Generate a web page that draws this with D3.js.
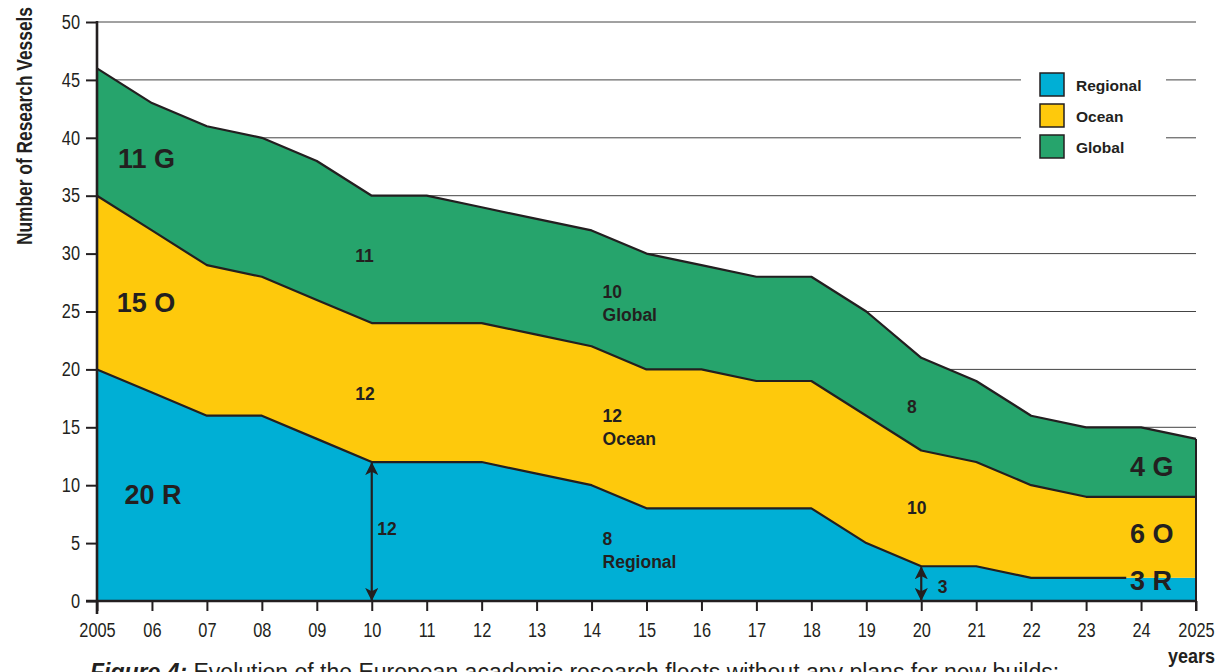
<!DOCTYPE html>
<html>
<head>
<meta charset="utf-8">
<script src="https://cdn.jsdelivr.net/npm/d3@7"></script>
<style>
  html, body { margin: 0; padding: 0; background: #fff; }
  svg { display: block; }
</style>
</head>
<body>
<svg id="chart" width="1228" height="672"></svg>
<script>
// ---- Data ----
const years = [2005,2006,2007,2008,2009,2010,2011,2012,2013,2014,2015,2016,2017,2018,2019,2020,2021,2022,2023,2024,2025];
const xTickLabels = ["2005","06","07","08","09","10","11","12","13","14","15","16","17","18","19","20","21","22","23","24","2025"];
const regional = [20,18,16,16,14,12,12,12,11,10,8,8,8,8,5,3,3,2,2,2,2];
const ocean    = [15,14,13,12,12,12,12,12,12,12,12,12,11,11,11,10,9,8,7,7,7];
const global   = [11,11,12,12,12,11,11,10,10,10,10,9,9,9,9,8,7,6,6,6,5];
const yTicks = [0,5,10,15,20,25,30,35,40,45,50];
const seriesNames = ["Regional","Ocean","Global"];
const colors = ["#00AFD5","#FEC90C","#26A46C"];

const bigLabels = [
  {x:2005.38, y:37.4, t:"11 G"},
  {x:2005.36, y:25, t:"15 O"},
  {x:2005.5, y:8.4, t:"20 R"},
  {x:2023.8, y:10.8, t:"4 G"},
  {x:2023.8, y:5, t:"6 O"},
  {x:2023.8, y:0.95, t:"3 R"}
];
const smallLabels = [
  {x:2009.7, y:29.3, t:["11"]},
  {x:2009.7, y:17.4, t:["12"]},
  {x:2014.2, y:26.2, t:["10","Global"]},
  {x:2014.2, y:15.5, t:["12","Ocean"]},
  {x:2014.2, y:4.8, t:["8","Regional"]},
  {x:2010.1, y:5.7, t:["12"]},
  {x:2019.74, y:16.2, t:["8"]},
  {x:2019.74, y:7.5, t:["10"]},
  {x:2020.3, y:0.7, t:["3"]}
];
const arrows = [{x:2010, from:0, to:12}, {x:2020, from:0, to:3}];

// ---- Setup ----
const svg = d3.select("#chart");
const x = d3.scaleLinear().domain([2005,2025]).range([97,1196]);
const y = d3.scaleLinear().domain([0,50]).range([601,22]);
const sans = "'Liberation Sans',Arial,Helvetica,sans-serif";
const ink = "#231f20";
const squeeze = 0.84;

// grid
svg.append("g").selectAll("line").data(yTicks.filter(d=>d>0)).join("line")
  .attr("x1", x(2005)).attr("x2", x(2025))
  .attr("y1", d=>y(d)).attr("y2", d=>y(d))
  .attr("stroke", "#444").attr("stroke-width", 1);

// stack
const table = years.map((yr,i)=>({year:yr, Regional:regional[i], Ocean:ocean[i], Global:global[i]}));
const stacked = d3.stack().keys(seriesNames)(table);
const area = d3.area().x(d=>x(d.data.year)).y0(d=>y(d[0])).y1(d=>y(d[1]));
const topLine = d3.line().x(d=>x(d.data.year)).y(d=>y(d[1]));

svg.append("g").selectAll("path").data(stacked).join("path")
  .attr("d", area).attr("fill", (d,i)=>colors[i]);

const defs = svg.append("defs");
defs.append("clipPath").attr("id","regclip").append("rect")
  .attr("x",0).attr("y",0).attr("width",x(2023.73)).attr("height",672);

svg.append("g").selectAll("path").data(stacked).join("path")
  .attr("d", topLine).attr("fill","none").attr("stroke",ink).attr("stroke-width",2.2)
  .attr("stroke-linejoin","round")
  .attr("clip-path",(d,i)=>i===0?"url(#regclip)":null);
// right edge
svg.append("line").attr("x1", x(2025)).attr("x2", x(2025))
  .attr("y1", y(0)+10).attr("y2", y(d3.sum([regional,ocean,global], a=>a[a.length-1])))
  .attr("stroke",ink).attr("stroke-width",2);

// axes
const yAxis = svg.append("g").attr("transform", `translate(${x(2005)},0)`)
  .call(d3.axisLeft(y).tickValues(yTicks).tickSize(11).tickPadding(6));
yAxis.select(".domain").remove();
yAxis.selectAll("line").attr("stroke",ink).attr("stroke-width",2);
yAxis.selectAll("text").attr("font-family",sans).attr("font-size",19.5).attr("fill",ink)
  .attr("x", -17/squeeze).attr("transform",`scale(${squeeze},1)`);
svg.append("line").attr("x1",x(2005)).attr("x2",x(2005)).attr("y1",y(50)-1).attr("y2",y(0)+13)
  .attr("stroke",ink).attr("stroke-width",2.6);

const xAxis = svg.append("g").attr("transform", `translate(0,${y(0)})`)
  .call(d3.axisBottom(x).tickValues(years).tickFormat((d,i)=>xTickLabels[i]).tickSize(10).tickPadding(12));
xAxis.select(".domain").remove();
xAxis.selectAll("line").attr("stroke",ink).attr("stroke-width",2);
xAxis.selectAll("text").attr("font-family",sans).attr("font-size",19.5).attr("fill",ink)
  .attr("transform",`scale(${squeeze},1)`);
svg.append("line").attr("x1",x(2005)-11).attr("x2",x(2025)+1).attr("y1",y(0)).attr("y2",y(0))
  .attr("stroke",ink).attr("stroke-width",2.6);

// axis titles
svg.append("text").attr("transform","translate(32,126) rotate(-90)")
  .attr("text-anchor","middle").attr("font-family",sans).attr("font-weight","bold")
  .attr("font-size",21.5).attr("fill",ink)
  .attr("textLength",238).attr("lengthAdjust","spacingAndGlyphs")
  .text("Number of Research Vessels");
svg.append("text").attr("x",1168).attr("y",663)
  .attr("font-family",sans).attr("font-weight","bold").attr("font-size",20)
  .attr("textLength",47).attr("lengthAdjust","spacingAndGlyphs")
  .attr("fill",ink).text("years");

// labels
svg.append("g").selectAll("text").data(bigLabels).join("text")
  .attr("x", d=>x(d.x)).attr("y", d=>y(d.y))
  .attr("font-family",sans).attr("font-weight","bold").attr("font-size",27)
  .attr("fill",ink).text(d=>d.t);
const sl = svg.append("g").selectAll("text").data(smallLabels).join("text")
  .attr("x", d=>x(d.x)).attr("y", d=>y(d.y))
  .attr("font-family",sans).attr("font-weight","bold").attr("font-size",17.5)
  .attr("fill",ink);
sl.selectAll("tspan").data(d=>d.t.map(t=>({t, x:d.x}))).join("tspan")
  .attr("x", d=>x(d.x)).attr("dy",(d,i)=>i===0?0:23).text(d=>d.t);

// arrows
defs.append("marker").attr("id","ah").attr("viewBox","0 0 12 12").attr("refX",11).attr("refY",6)
  .attr("markerWidth",6).attr("markerHeight",6).attr("markerUnits","strokeWidth").attr("orient","auto-start-reverse")
  .append("path").attr("d","M0,0 L12,6 L0,12 L3,6 Z").attr("fill",ink);
svg.append("g").selectAll("line").data(arrows).join("line")
  .attr("x1",d=>x(d.x)).attr("x2",d=>x(d.x))
  .attr("y1",d=>y(d.from)-1).attr("y2",d=>y(d.to)+1)
  .attr("stroke",ink).attr("stroke-width",2.2)
  .attr("marker-start","url(#ah)").attr("marker-end","url(#ah)");

// legend
const lg = svg.append("g");
lg.append("rect").attr("x",1021).attr("y",62).attr("width",145).attr("height",104).attr("fill","#fff");
const items = lg.selectAll("g").data(seriesNames).join("g")
  .attr("transform",(d,i)=>`translate(1040,${73+i*31})`);
items.append("rect").attr("width",24).attr("height",23).attr("fill",(d,i)=>colors[i])
  .attr("stroke",ink).attr("stroke-width",1.5);
items.append("text").attr("x",36).attr("y",18).attr("font-family",sans).attr("font-weight","bold")
  .attr("font-size",15.5).attr("fill",ink).text(d=>d);

// caption
const cap = svg.append("text").attr("x",90).attr("y",680).attr("font-family",sans)
  .attr("font-size",23).attr("fill",ink);
cap.append("tspan").attr("font-weight","bold").attr("font-style","italic").text("Figure 4:");
cap.append("tspan").text(" Evolution of the European academic research fleets without any plans for new builds:");
</script>
</body>
</html>
